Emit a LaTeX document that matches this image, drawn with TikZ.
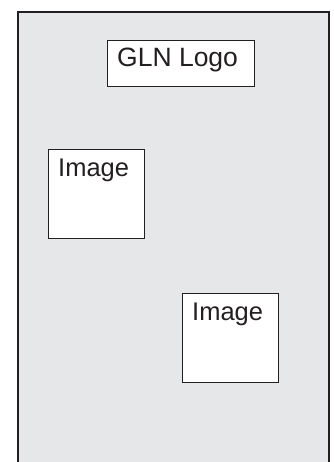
\documentclass[tikz,border=0pt]{standalone}
\usepackage{fontspec}
\setmainfont{Liberation Sans}
\definecolor{panel}{HTML}{E6E7E8}
\definecolor{ink}{HTML}{231F20}
\begin{document}
\begin{tikzpicture}[x=1pt,y=-1pt,
  boxst/.style={draw=ink, line width=1.3pt, fill=white, inner sep=0pt, anchor=north west},
  lbl/.style={text=ink, font=\fontsize{25.5}{28}\selectfont, inner sep=0pt, anchor=base west}]
\useasboundingbox (0,0) rectangle (333,462);
\clip (0,0) rectangle (333,462);
\fill[white] (0,0) rectangle (333,462);
\draw[draw=ink, line width=1.4pt, fill=panel] (18,12) rectangle (329,480);
\node[boxst, minimum width=147pt, minimum height=46pt] (logo) at (107,40) {};
\node[lbl, font=\fontsize{26.5}{29}\selectfont] (logotext) at ([xshift=10pt,yshift=-26.7pt]logo.north west) {GLN Logo};
\node[boxst, minimum width=96pt, minimum height=89pt] (img1) at (48,149) {};
\node[lbl] (img1text) at ([xshift=10pt,yshift=-27.5pt]img1.north west) {Image};
\node[boxst, minimum width=96pt, minimum height=89pt] (img2) at (182,293) {};
\node[lbl] (img2text) at ([xshift=10pt,yshift=-27.5pt]img2.north west) {Image};
\end{tikzpicture}
\end{document}
